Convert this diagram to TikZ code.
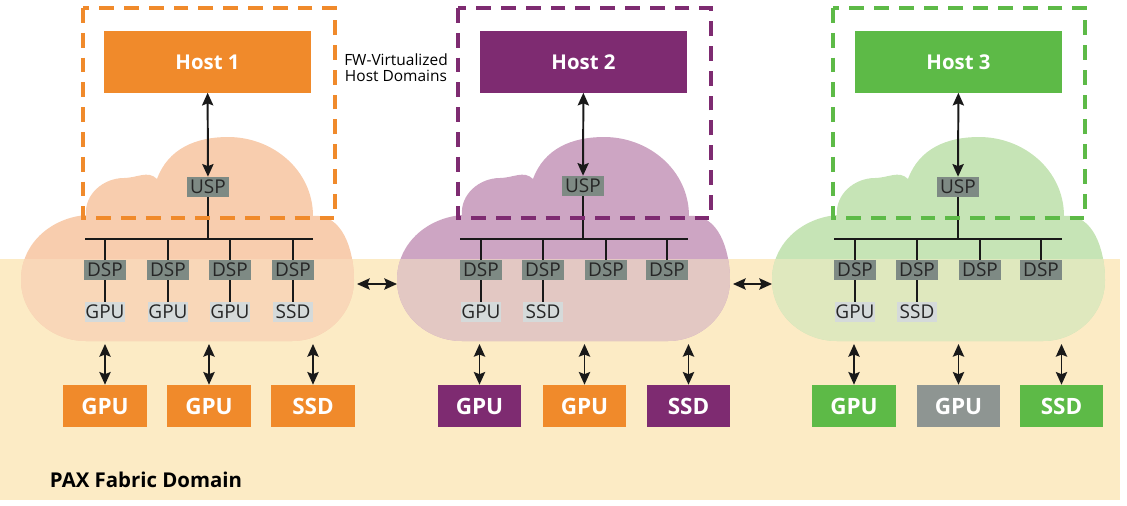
\documentclass[tikz,border=0pt]{standalone}
\usepackage{fontspec}
\setmainfont{Open Sans}
\usetikzlibrary{positioning,arrows.meta}

\definecolor{paxorange}{HTML}{F08A2B}
\definecolor{paxpurple}{HTML}{7E2B71}
\definecolor{paxgreen}{HTML}{5DBA47}
\definecolor{paxgray}{HTML}{8E9592}
\definecolor{portgray}{HTML}{7E8A84}
\definecolor{devgray}{HTML}{D5DADA}
\definecolor{fabric}{HTML}{FCEBC5}
\definecolor{cloudorange}{HTML}{F8CDAE}
\definecolor{cloudorangelo}{HTML}{F9D7B8}
\definecolor{cloudpurple}{HTML}{CDA5C3}
\definecolor{cloudpurplelo}{HTML}{E3C8C3}
\definecolor{cloudgreen}{HTML}{C6E4B6}
\definecolor{cloudgreenlo}{HTML}{DFE8BE}

% switch cloud outline
\def\cloudshape{(21,280) to[out=90,in=185] (86,215)
    to[out=95,in=180] (124,178) to[out=0,in=135] (157,179)
    to[out=70,in=180] (228,137) to[out=0,in=90] (313,216)
    to[out=5,in=90] (354,280) to[out=-90,in=0] (292,341)
    -- (86,341) to[out=180,in=-90] cycle}
% cloud shifted by #1 (px), colour above / inside the fabric band
\newcommand{\paxcloud}[3]{%
  \fill[#2, shift={(#1,0)}] \cloudshape;
  \begin{scope}
    \clip (0,259) rectangle (1120,500);
    \fill[#3, shift={(#1,0)}] \cloudshape;
  \end{scope}}

\begin{document}
\begin{tikzpicture}[
  x=0.025cm, y=-0.025cm,
  >={Stealth[length=9pt,width=8pt,inset=1.5pt]},
  host/.style   = {minimum width=5.15cm, minimum height=1.525cm, inner sep=0pt,
                   text=white, font=\fontsize{14.5}{16}\selectfont\bfseries},
  port/.style   = {fill=portgray, minimum width=1.05cm, minimum height=0.5cm,
                   inner sep=0pt, text=black!85, font=\fontsize{13.5}{14}\selectfont},
  dev/.style    = {port, fill=devgray, minimum width=1.0cm},
  endpt/.style  = {minimum width=2.075cm, minimum height=1.05cm, inner sep=0pt,
                   text=white, font=\fontsize{16}{17}\selectfont\bfseries},
  vdom/.style   = {line width=2.8pt, dash pattern=on 0.37cm off 0.25cm},
  link/.style   = {line width=1.4pt, black!90},
  biarrow/.style= {link, <->},
]
\useasboundingbox (0,0) rectangle (1127,506);

% PAX fabric domain
\fill[fabric] (0,259) rectangle (1120,500);
\node[anchor=base west, font=\fontsize{14.5}{16}\selectfont\bfseries] (fabtitle)
  at (45,487) {PAX Fabric Domain};

% clouds
\paxcloud{0}{cloudorange}{cloudorangelo}
\paxcloud{376}{cloudpurple}{cloudpurplelo}
\paxcloud{751}{cloudgreen}{cloudgreenlo}

% ---------------- domain 1 ----------------
\node[host, fill=paxorange] (host1) at (207.5,62) {Host 1};
\node[port] (usp1) at (208,187) {USP};
\coordinate (bus1w) at (85,239);
\coordinate (bus1e) at (313,239);
\node[port] (dsp11) at (105,270) {DSP};
\node[port] (dsp12) at (168,270) {DSP};
\node[port] (dsp13) at (230,270) {DSP};
\node[port] (dsp14) at (293,270) {DSP};
\node[dev] (dev11) at (105,312) {GPU};
\node[dev] (dev12) at (168,312) {GPU};
\node[dev] (dev13) at (230,312) {GPU};
\node[dev] (dev14) at (293,312) {SSD};
\node[endpt, fill=paxorange] (ep11) at (105,406) {GPU};
\node[endpt, fill=paxorange] (ep12) at (209,406) {GPU};
\node[endpt, fill=paxorange] (ep13) at (313,406) {SSD};
\coordinate (cloud1s) at (0,344);
\coordinate (cloud1e) at (357,284);

% ---------------- domain 2 ----------------
\node[host, fill=paxpurple] (host2) at (583.5,62) {Host 2};
\node[port] (usp2) at (583,186) {USP};
\coordinate (bus2w) at (460,239);
\coordinate (bus2e) at (688,239);
\node[port] (dsp21) at (481,270) {DSP};
\node[port] (dsp22) at (543,270) {DSP};
\node[port] (dsp23) at (606,270) {DSP};
\node[port] (dsp24) at (667,270) {DSP};
\node[dev] (dev21) at (481,312) {GPU};
\node[dev] (dev22) at (543,312) {SSD};
\node[endpt, fill=paxpurple] (ep21) at (479.5,406) {GPU};
\node[endpt, fill=paxorange] (ep22) at (584.5,406) {GPU};
\node[endpt, fill=paxpurple] (ep23) at (688.5,406) {SSD};
\coordinate (cloud2w) at (397,284);
\coordinate (cloud2e) at (733,284);

% ---------------- domain 3 ----------------
\node[host, fill=paxgreen] (host3) at (958.5,62) {Host 3};
\node[port] (usp3) at (958,187) {USP};
\coordinate (bus3w) at (834,239);
\coordinate (bus3e) at (1062,239);
\node[port] (dsp31) at (855,270) {DSP};
\node[port] (dsp32) at (917,270) {DSP};
\node[port] (dsp33) at (980,270) {DSP};
\node[port] (dsp34) at (1041,270) {DSP};
\node[dev] (dev31) at (855,312) {GPU};
\node[dev] (dev32) at (917,312) {SSD};
\node[endpt, fill=paxgreen] (ep31) at (854,406) {GPU};
\node[endpt, fill=paxgray]  (ep32) at (958.5,406) {GPU};
\node[endpt, fill=paxgreen] (ep33) at (1061.5,406) {SSD};
\coordinate (cloud3w) at (772,284);

% switch trees
\draw[link] (bus1w) -- (bus1e)  (bus2w) -- (bus2e)  (bus3w) -- (bus3e);
\draw[link] (usp1) -- (usp1 |- bus1w)  (usp2) -- (usp2 |- bus2w)  (usp3) -- (usp3 |- bus3w);
\draw[link] (dsp11) -- (dsp11 |- bus1w)  (dsp12) -- (dsp12 |- bus1w)
            (dsp13) -- (dsp13 |- bus1w)  (dsp14) -- (dsp14 |- bus1w);
\draw[link] (dsp21) -- (dsp21 |- bus2w)  (dsp22) -- (dsp22 |- bus2w)
            (dsp23) -- (dsp23 |- bus2w)  (dsp24) -- (dsp24 |- bus2w);
\draw[link] (dsp31) -- (dsp31 |- bus3w)  (dsp32) -- (dsp32 |- bus3w)
            (dsp33) -- (dsp33 |- bus3w)  (dsp34) -- (dsp34 |- bus3w);
\draw[link] (dsp11) -- (dev11)  (dsp12) -- (dev12)  (dsp13) -- (dev13)  (dsp14) -- (dev14);
\draw[link] (dsp21) -- (dev21)  (dsp22) -- (dev22)  (dsp31) -- (dev31)  (dsp32) -- (dev32);

% FW-virtualized host domains
\draw[vdom, paxorange] (83,8) rectangle (335,218);
\draw[vdom, paxpurple] (458,8) rectangle (711,218);
\draw[vdom, paxgreen]  (833,8) rectangle (1085,218);
\node[align=center, font=\fontsize{11}{11.5}\selectfont] (fwlabel) at (396,68)
  {FW-Virtualized\\Host Domains};

% host links
\draw[biarrow] (host1) -- (usp1);
\draw[biarrow] (host2) -- (usp2);
\draw[biarrow] (host3) -- (usp3);

% fabric links between switches
\draw[biarrow] (cloud1e) -- (cloud2w);
\draw[biarrow] (cloud2e) -- (cloud3w);

% endpoint links
\draw[biarrow] (ep11 |- cloud1s) -- (ep11);
\draw[biarrow] (ep12 |- cloud1s) -- (ep12);
\draw[biarrow] (ep13 |- cloud1s) -- (ep13);
\draw[biarrow] (ep21 |- cloud1s) -- (ep21);
\draw[biarrow] (ep22 |- cloud1s) -- (ep22);
\draw[biarrow] (ep23 |- cloud1s) -- (ep23);
\draw[biarrow] (ep31 |- cloud1s) -- (ep31);
\draw[biarrow] (ep32 |- cloud1s) -- (ep32);
\draw[biarrow] (ep33 |- cloud1s) -- (ep33);
\end{tikzpicture}
\end{document}
